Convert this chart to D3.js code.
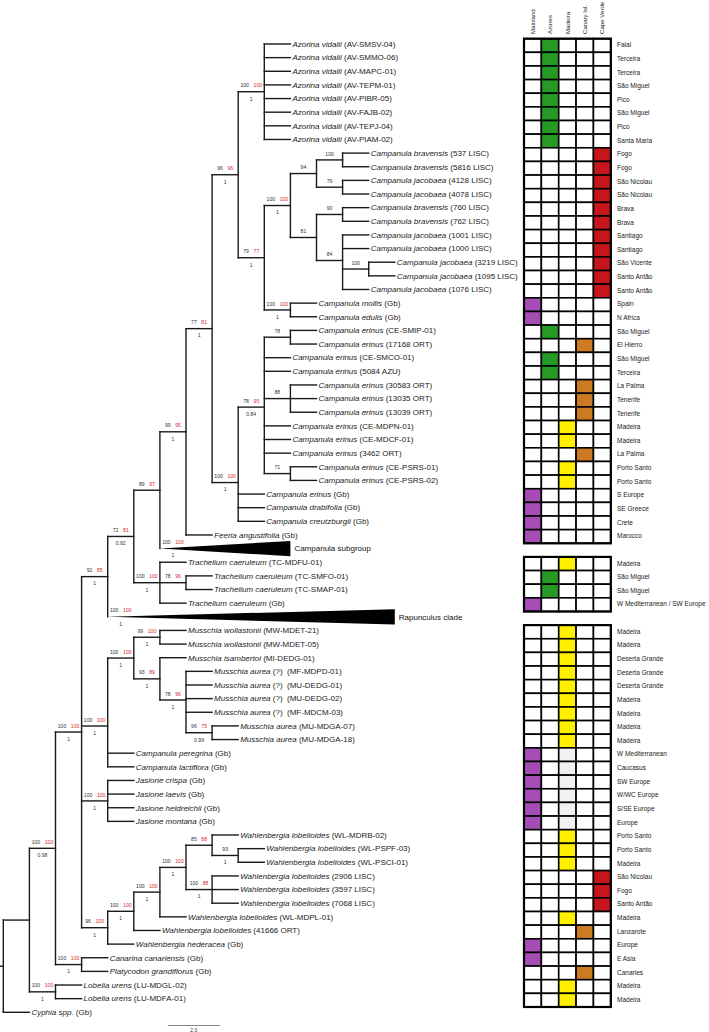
<!DOCTYPE html>
<html><head><meta charset="utf-8">
<script src="https://cdn.jsdelivr.net/npm/d3@7"></script>
<style>body{margin:0;background:#fff} svg{display:block} text{font-family:"Liberation Sans",Arial,Helvetica,sans-serif}</style>
</head><body><svg id="chart" width="709" height="1032"></svg>
<script>
// ---------- DATA ----------
const speciesNames = [
 "Azorina vidalii","Azorina vidalii","Azorina vidalii","Azorina vidalii","Azorina vidalii","Azorina vidalii","Azorina vidalii","Azorina vidalii",
 "Campanula bravensis","Campanula bravensis","Campanula jacobaea","Campanula jacobaea","Campanula bravensis","Campanula bravensis",
 "Campanula jacobaea","Campanula jacobaea","Campanula jacobaea","Campanula jacobaea","Campanula jacobaea",
 "Campanula mollis","Campanula edulis",
 "Campanula erinus","Campanula erinus","Campanula erinus","Campanula erinus","Campanula erinus","Campanula erinus","Campanula erinus",
 "Campanula erinus","Campanula erinus","Campanula erinus","Campanula erinus","Campanula erinus","Campanula erinus",
 "Campanula drabifolia","Campanula creutzburgii","Feeria angustifolia",
 "",
 "Trachelium caeruleum","Trachelium caeruleum","Trachelium caeruleum","Trachelium caeruleum",
 "",
 "Musschia wollastonii","Musschia wollastonii","Musschia isambertoi","Musschia aurea","Musschia aurea","Musschia aurea","Musschia aurea","Musschia aurea","Musschia aurea",
 "Campanula peregrina","Campanula lactiflora",
 "Jasione crispa","Jasione laevis","Jasione heldreichii","Jasione montana",
 "Wahlenbergia lobelioides","Wahlenbergia lobelioides","Wahlenbergia lobelioides","Wahlenbergia lobelioides","Wahlenbergia lobelioides",
 "Wahlenbergia lobelioides","Wahlenbergia lobelioides","Wahlenbergia lobelioides","Wahlenbergia hederacea",
 "Canarina canariensis","Platycodon grandiflorus",
 "Lobelia urens","Lobelia urens","Cyphia spp."
];
const specimenCodes = [
 "(AV-SMSV-04)","(AV-SMMO-06)","(AV-MAPC-01)","(AV-TEPM-01)","(AV-PIBR-05)","(AV-FAJB-02)","(AV-TEPJ-04)","(AV-PIAM-02)",
 "(537 LISC)","(5816 LISC)","(4128 LISC)","(4078 LISC)","(760 LISC)","(762 LISC)","(1001 LISC)","(1000 LISC)","(3219 LISC)","(1095 LISC)","(1076 LISC)",
 "(Gb)","(Gb)",
 "(CE-SMIP-01)","(17168 ORT)","(CE-SMCO-01)","(5084 AZU)","(30583 ORT)","(13035 ORT)","(13039 ORT)","(CE-MDPN-01)","(CE-MDCF-01)","(3462 ORT)","(CE-PSRS-01)","(CE-PSRS-02)","(Gb)",
 "(Gb)","(Gb)","(Gb)",
 "",
 "(TC-MDFU-01)","(TC-SMFO-01)","(TC-SMAP-01)","(Gb)",
 "",
 "(MW-MDET-21)","(MW-MDET-05)","(MI-DEDG-01)","(?)\u00a0\u00a0(MF-MDPD-01)","(?)\u00a0\u00a0(MU-DEDG-01)","(?)\u00a0\u00a0(MU-DEDG-02)","(?)\u00a0\u00a0(MF-MDCM-03)","(MU-MDGA-07)","(MU-MDGA-18)",
 "(Gb)","(Gb)",
 "(Gb)","(Gb)","(Gb)","(Gb)",
 "(WL-MDRB-02)","(WL-PSPF-03)","(WL-PSCI-01)","(2906 LISC)","(3597 LISC)","(7068 LISC)","(WL-MDPL-01)","(41666 ORT)","(Gb)",
 "(Gb)","(Gb)",
 "(LU-MDGL-02)","(LU-MDFA-01)","(Gb)"
];
const regionColumns = ["Mainland","Azores","Madeira","Canary Isl.","Cape Verde"];
const regionColors  = ["#a64db5","#259b25","#fff000","#cc7a24","#c4161c"];
// column index of the occupied region for each row (-1 = no cells)
const leafRegion = [
 1,1,1,1,1,1,1,1,
 4,4,4,4,4,4,4,4,4,4,4,
 0,0,
 1,3,1,1,3,3,3,2,2,3,2,2,0,
 0,0,0,
 -1,
 2,1,1,0,
 -1,
 2,2,2,2,2,2,2,2,2,
 0,0,
 0,0,0,0,
 2,2,2,4,4,4,2,3,0,
 0,3,
 2,2,-1
];
const faintMadeiraRows = [52,53,54,55,56,57];
const leafPlace = [
 "Faial","Terceira","Terceira","São Miguel","Pico","São Miguel","Pico","Santa Maria",
 "Fogo","Fogo","São Nicolau","São Nicolau","Brava","Brava","Santiago","Santiago","São Vicente","Santo Antão","Santo Antão",
 "Spain","N Africa",
 "São Miguel","El Hierro","São Miguel","Terceira","La Palma","Tenerife","Tenerife","Madeira","Madeira","La Palma","Porto Santo","Porto Santo","S Europe",
 "SE Greece","Crete","Marocco",
 "",
 "Madeira","São Miguel","São Miguel","W Mediterranean / SW Europe",
 "",
 "Madeira","Madeira","Deserta Grande","Deserta Grande","Deserta Grande","Madeira","Madeira","Madeira","Madeira",
 "W Mediterranean","Caucasus",
 "SW Europe","W/WC Europe","S/SE Europe","Europe",
 "Porto Santo","Porto Santo","Madeira","São Nicolau","Fogo","Santo Antão","Madeira","Lanzarote","Europe",
 "E Asia","Canaries",
 "Madeira","Madeira",""
];
// topology (leaf = row index); internal labels: bootstrap|ML|posterior[@nodeName]
const treeNewick = "(((((((((((0,1,2,3,4,5,6,7)100|100|1,((((8,9)100,(10,11)79)94,((12,13)90,(14,15,(16,17)100,18)84)81)100|100|1,(19,20)100|100|1)79|77|1)96|96|1,(((21,22)78,23,24,(25,26,27)88,28,29,30,(31,32)71)78|95|0.84,33,34,35)100|100|1)77|81|1,36)99|95|1,37)89|97,(38,(39,40)78|96,41)100|100|1)72|81|0.92,42)92|85|1,(((43,44)99|100|1,(45,(46,47,48,49,(50,51)96|75|0.99)78|96|1)93|89|1)100|100|1,52,53)100|100|1,(54,55,56,57)100|100|1,(((((58,(59,60)93||1)85|88,(61,62,63)100|88|1)100|100|1,64)100|100|1,65)100|100|1,66)96|100|1)100|100|1@core,(67,68)100|100|1)100|100|0.98,(69,70)100|100|1),71);";
// vertical position (in rows) of nodes placed off their children's mean in the source figure
const nodeRowOverrides = {core: 50.45};
const collapsedClades = [
 {leaf:37, label:"Campanula subgroup", support:"100|100|1", tipDepth:11},
 {leaf:42, label:"Rapunculus clade",   support:"100|100|1", tipDepth:15}
];
const scaleBarUnits = 2, scaleBarLabel = "2.0";

// ---------- PARSE ----------
function parseNewick(s){
  let i = 0;
  function node(){
    const n = {};
    if (s[i] === "("){
      i++; n.children = [node()];
      while (s[i] === ","){ i++; n.children.push(node()); }
      i++;
      let lab = ""; while (i < s.length && !",);".includes(s[i])) lab += s[i++];
      const [sup, name] = lab.split("@");
      n.support = sup; if (name) n.name = name;
    } else {
      let t = ""; while (!",);".includes(s[i])) t += s[i++];
      n.leaf = +t;
    }
    return n;
  }
  return node();
}
const root = d3.hierarchy(parseNewick(treeNewick));
const collapsedMap = new Map(collapsedClades.map(c => [c.leaf, c]));

// ---------- SCALES ----------
const svg = d3.select("#chart");
const nRows = speciesNames.length;
const x = d3.scaleLinear().domain([0, 15]).range([3.3, 394.8]);
const y = d3.scaleLinear().domain([0, nRows - 1]).range([44, 1012.3]);
const rowStep = y(1) - y(0);

root.eachAfter(n => {
  if (n.children){
    n.py = (n.data.name && nodeRowOverrides[n.data.name] !== undefined)
      ? y(nodeRowOverrides[n.data.name]) : d3.mean(n.children, c => c.py);
  }
  else n.py = y(n.data.leaf);
  n.px = x(n.depth);
});

const g = svg.append("g");
const lineColor = "#1a1a1a";
const sw = 1.4;

// branches
root.each(n => {
  const isCollapsed = !n.children && collapsedMap.has(n.data.leaf);
  if (n.parent && !isCollapsed){
    g.append("line").attr("x1", n.parent.px).attr("x2", n.px).attr("y1", n.py).attr("y2", n.py)
      .attr("stroke", lineColor).attr("stroke-width", sw).attr("stroke-linecap","square");
  }
  if (n.children){
    g.append("line").attr("x1", n.px).attr("x2", n.px)
      .attr("y1", d3.min(n.children, c => c.py)).attr("y2", d3.max(n.children, c => c.py))
      .attr("stroke", lineColor).attr("stroke-width", sw).attr("stroke-linecap","square");
  }
});
// root stub
g.append("line").attr("x1", 0).attr("x2", root.px).attr("y1", root.py).attr("y2", root.py)
  .attr("stroke", lineColor).attr("stroke-width", sw);

// collapsed triangles
root.leaves().filter(n => collapsedMap.has(n.data.leaf)).forEach(n => {
  const c = collapsedMap.get(n.data.leaf);
  const x0 = n.parent.px, x1 = x(c.tipDepth), h = rowStep * 0.56;
  g.append("path").attr("d", `M${x0},${n.py}L${x1},${n.py - h}L${x1},${n.py + h}Z`).attr("fill", "#000");
  g.append("text").attr("x", x1 + 4).attr("y", n.py).attr("dy", "0.35em")
    .attr("font-size", 8).attr("fill", "#111").text(c.label);
  n.data.support = c.support;
});

// leaf labels
root.leaves().filter(n => !collapsedMap.has(n.data.leaf)).forEach(n => {
  const i = n.data.leaf;
  const t = g.append("text").attr("x", n.px + 2).attr("y", n.py).attr("dy", "0.35em")
    .attr("font-size", 8).attr("fill", "#222");
  t.append("tspan").attr("font-style", "italic").text(speciesNames[i]);
  t.append("tspan").text(" " + specimenCodes[i]);
});

// support values
root.each(n => {
  if (!n.parent || !n.data.support) return;
  const [bs, ml, pp] = n.data.support.split("|");
  const mx = (n.parent.px + x(n.parent.depth + 1)) / 2;
  if (bs || ml){
    const t = g.append("text").attr("x", mx).attr("y", n.py - 4.4).attr("text-anchor", "middle")
      .attr("font-size", 5.1);
    if (bs) t.append("tspan").attr("fill", "#333").text(bs);
    if (ml) t.append("tspan").attr("dx", bs ? 4.6 : 0).attr("fill", "#d42a2a").text(ml);
  }
  if (pp){
    g.append("text").attr("x", mx).attr("y", n.py + 8.8).attr("text-anchor", "middle")
      .attr("font-size", 5.1).attr("fill", "#333").text(pp);
  }
});

// scale bar
const sbX0 = x(6.3);
const sbY = 1025.5;
g.append("line").attr("x1", sbX0).attr("x2", sbX0 + (x(scaleBarUnits) - x(0))).attr("y1", sbY).attr("y2", sbY)
  .attr("stroke", "#555").attr("stroke-width", 0.7);
g.append("text").attr("x", sbX0 + (x(scaleBarUnits) - x(0)) / 2).attr("y", sbY + 6).attr("text-anchor", "middle")
  .attr("font-size", 5).attr("fill", "#333").text(scaleBarLabel);

// ---------- DISTRIBUTION GRID ----------
const col = d3.scaleBand().domain(regionColumns).range([524, 610.8]).padding(0);
const cw = col.bandwidth();
const gridG = svg.append("g");
const cellCY = i => y(i) + 1.5;

// column headers
regionColumns.forEach(c => {
  const cx = col(c) + cw / 2 + 2.2;
  gridG.append("text").attr("transform", `translate(${cx},34) rotate(-90)`)
    .attr("font-size", 6.1).attr("fill", "#222").text(c);
});

// group runs
const runs = [];
leafRegion.forEach((r, i) => {
  if (r < 0) return;
  const last = runs[runs.length - 1];
  if (last && last.end === i - 1) last.end = i; else runs.push({start: i, end: i});
});

leafRegion.forEach((r, i) => {
  if (r < 0) return;
  regionColumns.forEach((c, j) => {
    let fill = "#fff";
    if (j === r) fill = regionColors[r];
    else if (j === 2 && faintMadeiraRows.includes(i)) fill = "#f1f1f1";
    gridG.append("rect").attr("x", col(c)).attr("y", cellCY(i) - rowStep / 2)
      .attr("width", cw).attr("height", rowStep)
      .attr("fill", fill).attr("stroke", "#000").attr("stroke-width", 1.6);
  });
  gridG.append("text").attr("x", 617).attr("y", y(i) + 1).attr("dy", "0.35em")
    .attr("font-size", 6.5).attr("fill", "#222").text(leafPlace[i]);
});
runs.forEach(rn => {
  gridG.append("rect").attr("x", col.range()[0]).attr("y", cellCY(rn.start) - rowStep / 2)
    .attr("width", col.range()[1] - col.range()[0])
    .attr("height", cellCY(rn.end) - cellCY(rn.start) + rowStep)
    .attr("fill", "none").attr("stroke", "#000").attr("stroke-width", 2.2);
});
</script></body></html>
